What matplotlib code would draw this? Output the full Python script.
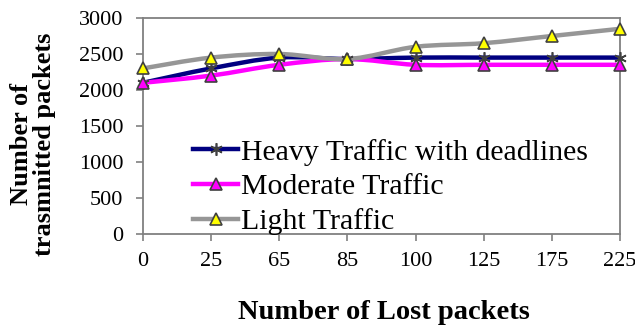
import matplotlib
matplotlib.use("Agg")
import matplotlib.pyplot as plt
import numpy as np
from matplotlib.path import Path
from matplotlib.patches import PathPatch
from matplotlib.lines import Line2D

plt.rcParams['font.family'] = ['Liberation Serif', 'DejaVu Serif']

lost_packets = ["0", "25", "65", "85", "100", "125", "175", "225"]
heavy = [2100, 2300, 2450, 2430, 2450, 2450, 2450, 2450]
moderate = [2100, 2200, 2350, 2430, 2350, 2350, 2350, 2350]
light = [2300, 2450, 2500, 2430, 2600, 2650, 2750, 2850]

series = [
    ("Heavy Traffic with deadlines", heavy, "#000080",
     dict(marker=(6, 2, 0), markersize=9, markeredgecolor="#404040",
          markerfacecolor="#404040", markeredgewidth=1.2)),
    ("Moderate Traffic", moderate, "#FF00FF",
     dict(marker="^", markersize=8, markeredgecolor="#404040",
          markerfacecolor="#FF00FF", markeredgewidth=1.2)),
    ("Light Traffic", light, "#969696",
     dict(marker="^", markersize=8, markeredgecolor="#404040",
          markerfacecolor="#FFFF00", markeredgewidth=1.2)),
]


def smooth_path(xs, ys):
    """Catmull-Rom style cubic Bezier path through the points."""
    pts = np.column_stack([xs, ys]).astype(float)
    n = len(pts)
    verts = [pts[0]]
    codes = [Path.MOVETO]
    for i in range(n - 1):
        p0 = pts[i - 1] if i > 0 else pts[i]
        p1 = pts[i]
        p2 = pts[i + 1]
        p3 = pts[i + 2] if i + 2 < n else pts[i + 1]
        c1 = p1 + (p2 - p0) / 6.0
        c2 = p2 - (p3 - p1) / 6.0
        verts.extend([c1, c2, p2])
        codes.extend([Path.CURVE4] * 3)
    return Path(verts, codes)


fig = plt.figure(figsize=(6.35, 3.26), dpi=100)
ax = fig.add_axes([143 / 635, 1 - 234 / 326, 477 / 635, 216 / 326])

x = np.arange(len(lost_packets))
handles = []
for name, vals, color, mk in series:
    patch = PathPatch(smooth_path(x, vals), fill=False, edgecolor=color,
                      linewidth=3.2, capstyle="round", joinstyle="round", zorder=2)
    ax.add_patch(patch)
    ax.plot(x, vals, linestyle="none", zorder=3, clip_on=False, **mk)
    handles.append(Line2D([], [], color=color, linewidth=3.2, **mk))

ax.set_xlim(0, len(lost_packets) - 1)
ax.set_ylim(0, 3000)
ax.set_xticks(x)
ax.set_xticklabels(lost_packets)
ax.set_yticks(np.arange(0, 3001, 500))

for sp in ax.spines.values():
    sp.set_color("#808080")
    sp.set_linewidth(1.3)
ax.tick_params(axis="both", direction="out", length=5, width=1.2,
               color="#808080", labelsize=16, labelcolor="black")
ax.tick_params(axis="x", pad=8)
ax.tick_params(axis="y", pad=9)

fig.text(383.5 / 635, 1 - 319 / 326, "Number of Lost packets", fontsize=20.5,
         fontweight="bold", ha="center", va="baseline")
fig.text(33 / 635, 1 - 144 / 326, "Number of\ntrasmnitted packets", fontsize=19,
         fontweight="bold", rotation=90, ha="center", va="center",
         linespacing=0.95, multialignment="center")

leg = ax.legend(handles, [s[0] for s in series], loc="lower left",
                bbox_to_anchor=(0.08, -0.06), frameon=False, fontsize=21.5,
                handlelength=1.5, handletextpad=0.1, labelspacing=0.26,
                borderaxespad=0)

fig.savefig("out.png", dpi=100, facecolor="white")
